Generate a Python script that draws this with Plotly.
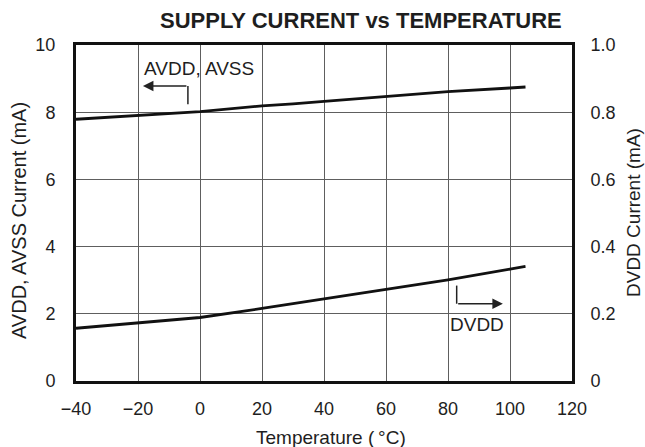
import plotly.graph_objects as go

# Supply current vs temperature
temp_c = [-40, -20, 0, 20, 25, 30, 40, 60, 80, 100, 105]
avdd_ma = [7.79, 7.90, 8.02, 8.19, 8.21, 8.25, 8.32, 8.47, 8.61, 8.72, 8.75]
dvdd_ma = [0.157, 0.174, 0.189, 0.216, 0.223, 0.230, 0.244, 0.272, 0.301, 0.333, 0.341]

x_ticks = [-40, -20, 0, 20, 40, 60, 80, 100, 120]
x_ticktext = ["\u221240", "\u221220", "0", "20", "40", "60", "80", "100", "120"]
y_ticks = [0, 2, 4, 6, 8, 10]
y2_ticks = [0, 0.2, 0.4, 0.6, 0.8, 1.0]
y2_ticktext = ["0", "0.2", "0.4", "0.6", "0.8", "1.0"]

FONT = "Liberation Sans, Arial, sans-serif"
TXT = "#1e1e1e"
GRID = "#5e5e5e"

fig = go.Figure()
fig.add_trace(go.Scatter(x=temp_c, y=avdd_ma, mode="lines",
                         line=dict(color="#111111", width=2.8), yaxis="y",
                         showlegend=False))
fig.add_trace(go.Scatter(x=temp_c, y=dvdd_ma, mode="lines",
                         line=dict(color="#111111", width=2.8), yaxis="y2",
                         showlegend=False))

fig.update_layout(
    width=645, height=447,
    margin=dict(l=76, r=73, t=45, b=66),
    paper_bgcolor="white", plot_bgcolor="white",
    font=dict(family=FONT, size=18, color=TXT),
    xaxis=dict(range=[-40, 120], tickvals=x_ticks, ticktext=x_ticktext,
               showgrid=True, gridcolor=GRID, gridwidth=1.2,
               showline=True, linecolor="#111111", linewidth=3, mirror=True,
               ticks="outside", ticklen=9, tickcolor="rgba(0,0,0,0)",
               zeroline=False, fixedrange=True),
    yaxis=dict(range=[0, 10], tickvals=y_ticks,
               showgrid=True, gridcolor=GRID, gridwidth=1.2,
               showline=True, linecolor="#111111", linewidth=3, mirror=True,
               ticks="outside", ticklen=14, tickcolor="rgba(0,0,0,0)",
               zeroline=False, fixedrange=True),
    yaxis2=dict(range=[0, 1], tickvals=y2_ticks, ticktext=y2_ticktext,
                overlaying="y", side="right", showgrid=False,
                ticks="outside", ticklen=14, tickcolor="rgba(0,0,0,0)",
                zeroline=False, fixedrange=True),
)

# Title and axis titles
fig.add_annotation(text="<b>SUPPLY CURRENT vs TEMPERATURE</b>", xref="paper", yref="paper",
                   x=(361 - 76) / 496, y=1, xanchor="center", yanchor="middle",
                   yshift=25, showarrow=False,
                   font=dict(size=22, family=FONT, color=TXT))
fig.add_annotation(text="Temperature (\u2009\u00b0C)", xref="paper", yref="paper",
                   x=(331 - 76) / 496, y=0, xanchor="center", yanchor="middle",
                   yshift=-56, showarrow=False, font=dict(size=19))
fig.add_annotation(text="AVDD, AVSS Current (mA)", xref="paper", yref="paper",
                   x=0, y=0.5, xanchor="center", yanchor="middle", xshift=-57,
                   yshift=-8, textangle=-90, showarrow=False, font=dict(size=20))
fig.add_annotation(text="DVDD Current (mA)", xref="paper", yref="paper",
                   x=1, y=0.5, xanchor="center", yanchor="middle", xshift=61,
                   textangle=-90, showarrow=False, font=dict(size=19))

# Series callouts with elbow arrows
fig.add_annotation(text="AVDD, AVSS", x=-0.3, y=9.31, showarrow=False, font=dict(size=19))
fig.add_shape(type="line", x0=-3.9, y0=8.24, x1=-3.9, y1=8.78,
              line=dict(color="#222222", width=1.5))
fig.add_annotation(x=-18.4, y=8.78, ax=-3.9, ay=8.78, axref="x", ayref="y",
                   text="", showarrow=True, arrowhead=2, arrowsize=1.4,
                   arrowwidth=1.5, arrowcolor="#222222")

fig.add_annotation(text="DVDD", x=89.4, y=1.67, showarrow=False, font=dict(size=19))
fig.add_shape(type="line", x0=82.8, y0=2.84, x1=82.8, y1=2.30,
              line=dict(color="#222222", width=1.5))
fig.add_annotation(x=97.7, y=2.30, ax=82.8, ay=2.30, axref="x", ayref="y",
                   text="", showarrow=True, arrowhead=2, arrowsize=1.4,
                   arrowwidth=1.5, arrowcolor="#222222")

fig.write_html("out.html")
